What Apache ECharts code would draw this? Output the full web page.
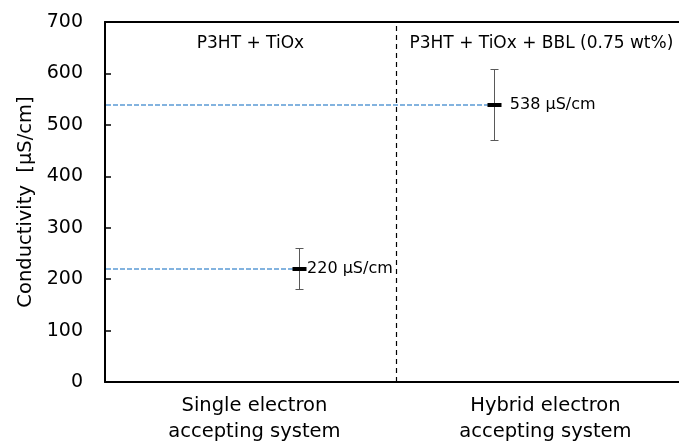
<!DOCTYPE html>
<html><head><meta charset="utf-8">
<script src="https://cdn.jsdelivr.net/npm/echarts@6/dist/echarts.min.js"></script>
<style>html,body{margin:0;padding:0;background:#fff}#c{width:679px;height:445px}</style>
</head><body><div id="c"></div>
<script>
var categories = ['Single electron\naccepting system', 'Hybrid electron\naccepting system'];
var panelLabels = ['P3HT + TiOx', 'P3HT + TiOx + BBL (0.75 wt%)'];
var pointX = [0.667, 1.34];
var means = [220, 538];
var errPlus = [40, 69];
var errMinus = [40, 68];
var yTicks = [0, 100, 200, 300, 400, 500, 600, 700];
var unit = ' µS/cm';

var FONT = 'DejaVu Sans';
var XMAX = 1.973; // visible part of the second panel (cropped on the right)
var chart = echarts.init(document.getElementById('c'), null, {renderer: 'canvas'});
var data = means.map(function (m, i) { return [pointX[i], m, m + errPlus[i], m - errMinus[i]]; });

function crisp(v) { return Math.round(v - 0.5) + 0.5; }

chart.setOption({
  animation: false,
  grid: {left: 105, right: 0, top: 22, bottom: 62},
  xAxis: [{
    type: 'value', min: 0, max: XMAX, interval: 0.5,
    splitLine: {show: false},
    axisLine: {show: true, onZero: false, lineStyle: {color: '#000', width: 2}},
    axisTick: {show: false},
    axisLabel: {
      margin: 11, color: '#000', fontFamily: FONT, fontSize: 19.5, lineHeight: 26,
      padding: [0, 0, 0, 8],
      showMaxLabel: false,
      formatter: function (v) { var i = Math.round(v - 0.5); return (Math.abs(v - i - 0.5) < 1e-6 && categories[i]) ? categories[i] : ''; }
    }
  }, {
    type: 'value', position: 'top', min: 0, max: XMAX,
    splitLine: {show: false},
    axisLine: {show: true, onZero: false, lineStyle: {color: '#000', width: 2}},
    axisTick: {show: false}, axisLabel: {show: false}
  }],
  yAxis: {
    type: 'value', min: yTicks[0], max: yTicks[yTicks.length - 1], interval: 100,
    name: 'Conductivity  [µS/cm]', nameLocation: 'middle', nameGap: 67,
    nameTextStyle: {color: '#000', fontFamily: FONT, fontSize: 19.5},
    splitLine: {show: false},
    axisLine: {show: true, lineStyle: {color: '#000', width: 2}},
    axisTick: {show: true, inside: true, length: 6, lineStyle: {color: '#000', width: 1.5}},
    axisLabel: {margin: 22, color: '#000', fontFamily: FONT, fontSize: 19}
  },
  series: [{
    type: 'custom',
    data: data,
    clip: false,
    z: 3,
    renderItem: function (params, api) {
      var p = api.coord([api.value(0), api.value(1)]);
      var x0 = api.coord([0, api.value(1)]);
      var py = Math.round(p[1]);
      return {type: 'line', shape: {x1: x0[0] + 1, y1: py, x2: p[0] - 6, y2: py}, style: {stroke: '#5B9BD5', lineWidth: 1.6, lineDash: [5, 2]}};
    }
  }, {
    type: 'custom',
    data: data,
    clip: false,
    z: 4,
    renderItem: function (params, api) {
      var i = params.dataIndex;
      var p = api.coord([api.value(0), api.value(1)]);
      var hi = api.coord([api.value(0), api.value(2)]);
      var lo = api.coord([api.value(0), api.value(3)]);
      var px = crisp(p[0]);
      var cap = 4;
      return {type: 'group', children: [
        {type: 'line', shape: {x1: px, y1: crisp(hi[1]), x2: px, y2: crisp(lo[1])}, style: {stroke: '#595959', lineWidth: 1}},
        {type: 'line', shape: {x1: px - cap, y1: crisp(hi[1]), x2: px + cap, y2: crisp(hi[1])}, style: {stroke: '#595959', lineWidth: 1}},
        {type: 'line', shape: {x1: px - cap, y1: crisp(lo[1]), x2: px + cap, y2: crisp(lo[1])}, style: {stroke: '#595959', lineWidth: 1}},
        {type: 'line', shape: {x1: px - 7, y1: Math.round(p[1]), x2: px + 7, y2: Math.round(p[1])}, style: {stroke: '#000', lineWidth: 4}},
        {type: 'text', style: {x: p[0] + (i === 0 ? 8 : 15), y: p[1], text: means[i] + unit, textAlign: 'left', textVerticalAlign: 'middle', fill: '#000', font: '16px "' + FONT + '"'}}
      ]};
    },
    markLine: {
      silent: true, symbol: 'none', label: {show: false},
      lineStyle: {color: '#000', type: [5, 4], width: 1.2},
      data: [{xAxis: 1}]
    }
  }, {
    type: 'custom',
    data: panelLabels.map(function (t, i) { return [i + 0.5, 659]; }),
    renderItem: function (params, api) {
      var p = api.coord([api.value(0), api.value(1)]);
      return {type: 'text', style: {x: p[0], y: p[1], text: panelLabels[params.dataIndex], textAlign: 'center', textVerticalAlign: 'middle', fill: '#000', font: '17px "' + FONT + '"'}};
    }
  }]
});
</script></body></html>
